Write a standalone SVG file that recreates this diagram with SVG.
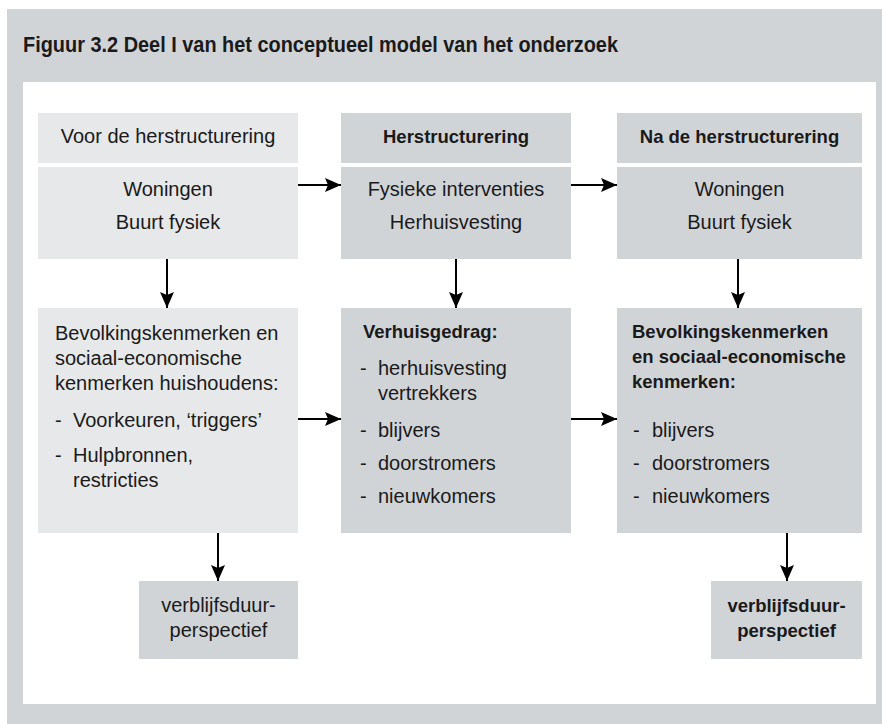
<svg xmlns="http://www.w3.org/2000/svg" width="882" height="724" viewBox="0 0 882 724">
<style>
text{font-family:"Liberation Sans",Arial,sans-serif;fill:#1a1a1a}
.r{font-size:20px}
.b{font-size:18.5px;font-weight:bold}
.c{text-anchor:middle}
.light{fill:#e6e8e9}
.dark{fill:#d1d4d7}
.conn line{stroke:#000;stroke-width:2;marker-end:url(#ah)}
</style>
<defs>
<marker id="ah" viewBox="0 0 16 14" refX="16" refY="7" markerWidth="16" markerHeight="14" markerUnits="userSpaceOnUse" orient="auto">
<path d="M0,0 L16,7 L0,14 L3,7 z" fill="#000"/>
</marker>
</defs>
<rect x="0" y="0" width="882" height="724" fill="#fff"/>
<rect x="7" y="9" width="875" height="715" fill="#d1d4d7"/>
<rect x="23" y="82" width="853" height="622" fill="#fff"/>
<text x="23" y="52" style="font-size:22px;font-weight:bold" textLength="595" lengthAdjust="spacingAndGlyphs">Figuur 3.2  Deel I van het conceptueel model van het onderzoek</text>

<g id="h1"><rect class="light" x="38" y="113" width="260" height="50"/><text class="r c" x="168" y="143">Voor de herstructurering</text></g>
<g id="h2"><rect class="dark" x="341" y="113" width="230" height="50"/><text class="b c" x="456" y="143">Herstructurering</text></g>
<g id="h3"><rect class="dark" x="617" y="113" width="245" height="50"/><text class="b c" x="739.5" y="143">Na de herstructurering</text></g>

<g id="a1"><rect class="light" x="38" y="167" width="260" height="92"/><text class="r c" x="168" y="196">Woningen</text><text class="r c" x="168" y="229">Buurt fysiek</text></g>
<g id="a2"><rect class="dark" x="341" y="167" width="230" height="92"/><text class="r c" x="456" y="196">Fysieke interventies</text><text class="r c" x="456" y="229">Herhuisvesting</text></g>
<g id="a3"><rect class="dark" x="617" y="167" width="245" height="92"/><text class="r c" x="739.5" y="196">Woningen</text><text class="r c" x="739.5" y="229">Buurt fysiek</text></g>

<g id="b1"><rect class="light" x="38" y="308" width="260" height="225"/>
<text class="r" x="55" y="340">Bevolkingskenmerken en</text>
<text class="r" x="55" y="365">sociaal-economische</text>
<text class="r" x="55" y="390">kenmerken huishoudens:</text>
<text class="r" x="55" y="427">-</text><text class="r" x="73" y="427">Voorkeuren, ‘triggers’</text>
<text class="r" x="55" y="462">-</text><text class="r" x="73" y="462">Hulpbronnen,</text>
<text class="r" x="73" y="487">restricties</text></g>

<g id="b2"><rect class="dark" x="341" y="308" width="230" height="225"/>
<text class="b" x="363" y="338">Verhuisgedrag:</text>
<text class="r" x="360" y="375">-</text><text class="r" x="378" y="375">herhuisvesting</text>
<text class="r" x="378" y="400">vertrekkers</text>
<text class="r" x="360" y="437">-</text><text class="r" x="378" y="437">blijvers</text>
<text class="r" x="360" y="470">-</text><text class="r" x="378" y="470">doorstromers</text>
<text class="r" x="360" y="503">-</text><text class="r" x="378" y="503">nieuwkomers</text></g>

<g id="b3"><rect class="dark" x="617" y="308" width="245" height="225"/>
<text class="b" x="632" y="338">Bevolkingskenmerken</text>
<text class="b" x="632" y="363">en sociaal-economische</text>
<text class="b" x="632" y="388">kenmerken:</text>
<text class="r" x="633" y="437">-</text><text class="r" x="652" y="437">blijvers</text>
<text class="r" x="633" y="470">-</text><text class="r" x="652" y="470">doorstromers</text>
<text class="r" x="633" y="503">-</text><text class="r" x="652" y="503">nieuwkomers</text></g>

<g id="c1"><rect class="dark" x="139" y="581" width="159" height="78"/><text class="r c" x="218.5" y="612">verblijfsduur-</text><text class="r c" x="218.5" y="637">perspectief</text></g>
<g id="c3"><rect class="dark" x="711" y="581" width="151" height="78"/><text class="b c" x="786.5" y="612">verblijfsduur-</text><text class="b c" x="786.5" y="637">perspectief</text></g>

<g class="conn" id="connectors">
<line x1="298" y1="185" x2="341" y2="185"/>
<line x1="571" y1="185" x2="617" y2="185"/>
<line x1="167" y1="259" x2="167" y2="308"/>
<line x1="456" y1="259" x2="456" y2="308"/>
<line x1="738" y1="259" x2="738" y2="308"/>
<line x1="298" y1="419" x2="341" y2="419"/>
<line x1="571" y1="419" x2="617" y2="419"/>
<line x1="218" y1="533" x2="218" y2="581"/>
<line x1="787" y1="533" x2="787" y2="581"/>
</g>
</svg>
